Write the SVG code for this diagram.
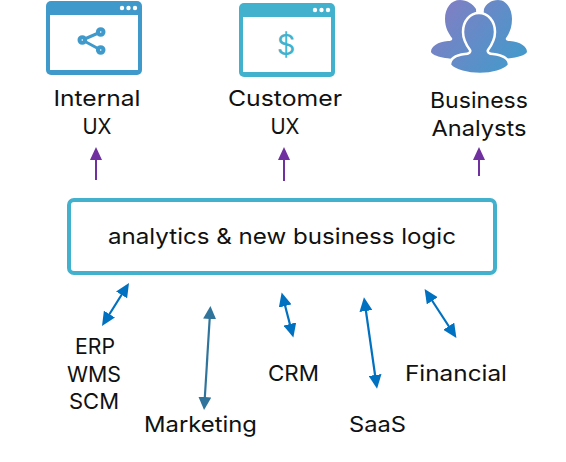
<svg xmlns="http://www.w3.org/2000/svg" width="566" height="462" viewBox="0 0 566 462">
<style>
text{font-family:"Inter","Noto Sans","Liberation Sans",sans-serif;font-size:22px;fill:#111;text-anchor:middle}
.pur{stroke:#7030a0;stroke-width:2;fill:none;marker-end:url(#hp)}
.blu{stroke:#0070c0;stroke-width:2.2;fill:none;marker-start:url(#hb);marker-end:url(#hb)}
.tea{stroke:#31749b;stroke-width:2.2;fill:none;marker-start:url(#ht);marker-end:url(#ht)}
.dot{fill:#fff}
.sn{fill:#fff;stroke:#3f9acb;stroke-width:4}
</style>
<defs>
<marker id="hp" markerUnits="userSpaceOnUse" viewBox="0 0 13 12" refX="1" refY="6" markerWidth="13" markerHeight="12" orient="auto"><path d="M0 0L13 6L0 12Z" fill="#7030a0"/></marker>
<marker id="hb" markerUnits="userSpaceOnUse" viewBox="0 0 14 13" refX="1" refY="6.500" markerWidth="14" markerHeight="13" orient="auto-start-reverse"><path d="M0 0L14 6.500L0 13Z" fill="#0070c0"/></marker>
<marker id="ht" markerUnits="userSpaceOnUse" viewBox="0 0 13 13" refX="1" refY="6.500" markerWidth="13" markerHeight="13" orient="auto-start-reverse"><path d="M0 0L13 6.500L0 13Z" fill="#31749b"/></marker>
<linearGradient id="pg" gradientUnits="userSpaceOnUse" x1="445" y1="10" x2="515" y2="65"><stop offset="0" stop-color="#7d80c4"/><stop offset="1" stop-color="#4599cb"/></linearGradient>
</defs>
<g id="internal-ux">
<rect x="46" y="1" width="96" height="74" rx="5" fill="#3f9acb"/>
<rect x="50" y="15" width="88" height="55" fill="#fff"/>
<circle class="dot" cx="122" cy="8" r="2.2"/><circle class="dot" cx="128.5" cy="8" r="2.2"/><circle class="dot" cx="135" cy="8" r="2.2"/>
<path d="M100.7 32L82.3 40L100.7 50" fill="none" stroke="#3f9acb" stroke-width="3"/>
<circle class="sn" cx="100.700" cy="32" r="2.800"/><circle class="sn" cx="82.300" cy="40" r="2.800"/><circle class="sn" cx="100.700" cy="50" r="2.800"/>
<text x="97" y="106" textLength="87" lengthAdjust="spacingAndGlyphs">Internal</text><text x="97" y="134" textLength="29" lengthAdjust="spacingAndGlyphs">UX</text>
</g>
<g id="customer-ux">
<rect x="239" y="3" width="96" height="74" rx="5" fill="#41b1cd"/>
<rect x="243" y="17" width="88" height="55" fill="#fff"/>
<circle class="dot" cx="315" cy="10" r="2.2"/><circle class="dot" cx="321.5" cy="10" r="2.2"/><circle class="dot" cx="328" cy="10" r="2.2"/>
<text x="286" y="55" style="font-size:29px;fill:#41b1cd">$</text>
<text x="285" y="106" textLength="114" lengthAdjust="spacingAndGlyphs">Customer</text><text x="285" y="134" textLength="29" lengthAdjust="spacingAndGlyphs">UX</text>
</g>
<g id="business-analysts">
<path fill="url(#pg)" d="M460 0C451 0 445 8 445 19C445 28 449 34 452 38C453 40 451 41 448 41C438 42 431 46 431 52C434 57 446 59 470 60L488 60C510 59 524 57 527 52C527 46 520 42 510 41C507 41 505 40 506 38C509 34 512 28 512 19C512 8 506 0 498 0C491 0 486 4 484 9L482 30L477 30L476 9C473 4 467 0 460 0Z"/>
<path fill="url(#pg)" stroke="#fff" stroke-width="2.5" d="M479 13C470 13 463 21 463 32C463 40 467 46 470 50C471 52 469 54 465 54C456 55 450 58 450 65C455 71 468 74 480 74C492 74 504 71 509 65C509 58 502 55 493 54C489 54 487 52 488 50C491 46 495 40 495 32C495 21 488 13 479 13Z"/>
<text x="479" y="108" textLength="98" lengthAdjust="spacingAndGlyphs">Business</text><text x="479" y="136" textLength="95" lengthAdjust="spacingAndGlyphs">Analysts</text>
</g>
<g id="logic">
<rect x="69" y="200" width="426" height="73" rx="5" fill="#fff" stroke="#41b1cd" stroke-width="4"/>
<text x="282" y="244" textLength="348" lengthAdjust="spacingAndGlyphs">analytics &amp; new business logic</text>
</g>
<g id="erp"><text x="95" y="354" textLength="40" lengthAdjust="spacingAndGlyphs">ERP</text><text x="94" y="382" textLength="54" lengthAdjust="spacingAndGlyphs">WMS</text><text x="94" y="409" textLength="50" lengthAdjust="spacingAndGlyphs">SCM</text></g>
<g id="marketing"><text x="200.500" y="432" textLength="113" lengthAdjust="spacingAndGlyphs">Marketing</text></g>
<g id="crm"><text x="293.500" y="381" textLength="51" lengthAdjust="spacingAndGlyphs">CRM</text></g>
<g id="saas"><text x="377.500" y="432" textLength="57" lengthAdjust="spacingAndGlyphs">SaaS</text></g>
<g id="financial"><text x="456" y="381" textLength="102" lengthAdjust="spacingAndGlyphs">Financial</text></g>
<g id="connectors">
<path class="pur" d="M96 180V159"/>
<path class="pur" d="M284 181V159"/>
<path class="pur" d="M479 176V159"/>
<path class="blu" d="M122.100 294L108.900 315"/>
<path class="tea" d="M209.700 318L204.800 398"/>
<path class="blu" d="M284.900 305L290.100 325"/>
<path class="blu" d="M365.800 310L375.200 376"/>
<path class="blu" d="M431.700 300L449.300 327"/>
</g>
</svg>
